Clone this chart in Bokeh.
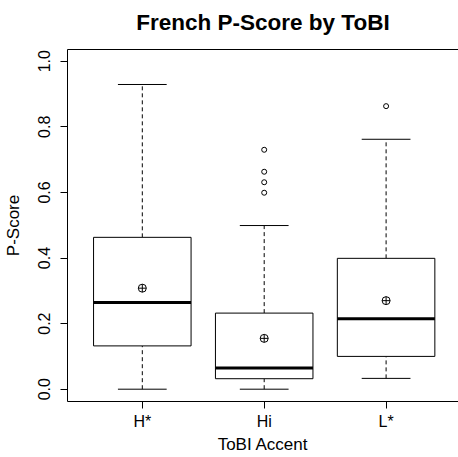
from bokeh.plotting import figure
from bokeh.models import LinearAxis, FixedTicker, Range1d, ColumnDataSource, NumeralTickFormatter
from bokeh.embed import file_html
from bokeh.resources import INLINE

# ---- data ----
title_text = "French P-Score by ToBI"
categories = ["H*", "Hi", "L*"]
positions = [1, 2, 3]
whisker_low = [0.000, 0.000, 0.033]
q1 = [0.132, 0.032, 0.100]
median = [0.264, 0.065, 0.215]
q3 = [0.463, 0.232, 0.399]
whisker_high = [0.929, 0.499, 0.762]
means = [0.308, 0.155, 0.270]
outlier_group = ["Hi", "Hi", "Hi", "Hi", "L*"]
outlier_values = [0.730, 0.663, 0.631, 0.599, 0.863]
y_ticks = [0.0, 0.2, 0.4, 0.6, 0.8, 1.0]

FONT = "Liberation Sans"
box_half = 0.4
cap_half = 0.2

src = ColumnDataSource(dict(
    x=positions,
    left=[x - box_half for x in positions],
    right=[x + box_half for x in positions],
    cap_l=[x - cap_half for x in positions],
    cap_r=[x + cap_half for x in positions],
    lo=whisker_low, q1=q1, med=median, q3=q3, hi=whisker_high, mean=means,
))
pos_of = dict(zip(categories, positions))
out_src = ColumnDataSource(dict(
    x=[pos_of[g] for g in outlier_group], y=outlier_values))

p = figure(width=458, height=457, output_backend="svg", toolbar_location=None,
           x_range=Range1d(0.3863, 3.594), y_range=Range1d(-0.0375, 1.0357),
           min_border_left=66, min_border_right=0, min_border_top=49,
           min_border_bottom=56)
p.outline_line_color = None
p.grid.visible = False
p.background_fill_color = "white"
p.border_fill_color = "white"

# x axis
xa = p.xaxis[0]
xa.ticker = FixedTicker(ticks=positions)
xa.major_label_overrides = {pos: cat for pos, cat in zip(positions, categories)}
xa.axis_label = "ToBI Accent"
for ax in (p.xaxis[0], p.yaxis[0]):
    ax.axis_line_color = "black"
    ax.major_tick_line_color = "black"
    ax.minor_tick_line_color = None
    ax.major_tick_out = 7
    ax.major_tick_in = 0
    ax.major_label_text_font = FONT
    ax.major_label_text_font_size = "16px"
    ax.major_label_text_color = "black"
    ax.axis_label_text_font = FONT
    ax.axis_label_text_font_size = "17px"
    ax.axis_label_text_font_style = "normal"
    ax.axis_label_text_color = "black"
xa.major_label_standoff = 4
xa.axis_label_standoff = 2

ya = p.yaxis[0]
ya.ticker = FixedTicker(ticks=y_ticks)
ya.formatter = NumeralTickFormatter(format="0.0")
ya.major_label_orientation = "vertical"
ya.axis_label = "P-Score"
ya.major_label_standoff = 10
ya.axis_label_standoff = 13

# top frame line, carrying the main title as its label (centred over the plot)
top = LinearAxis(ticker=FixedTicker(ticks=[]), axis_line_color="black",
                 major_tick_line_color=None, minor_tick_line_color=None,
                 major_tick_out=0, major_tick_in=0, major_label_standoff=0,
                 axis_label=title_text, axis_label_text_font=FONT,
                 axis_label_text_font_size="22.5px", axis_label_text_font_style="bold",
                 axis_label_text_color="black", axis_label_standoff=15)
p.add_layout(top, "above")

# whiskers (dashed)
p.segment(x0="x", y0="q3", x1="x", y1="hi", source=src, line_color="black",
          line_width=1, line_dash="4 3")
p.segment(x0="x", y0="lo", x1="x", y1="q1", source=src, line_color="black",
          line_width=1, line_dash="4 3")
# caps
p.segment(x0="cap_l", y0="hi", x1="cap_r", y1="hi", source=src, line_color="black", line_width=1)
p.segment(x0="cap_l", y0="lo", x1="cap_r", y1="lo", source=src, line_color="black", line_width=1)
# boxes
p.quad(left="left", right="right", bottom="q1", top="q3", source=src,
       fill_color="white", line_color="black", line_width=1)
# medians
p.segment(x0="left", y0="med", x1="right", y1="med", source=src, line_color="black", line_width=3)
# means
p.scatter(x="x", y="mean", source=src, marker="circle_cross", size=8,
          fill_color=None, line_color="black", line_width=1)
# outliers
p.scatter(x="x", y="y", source=out_src, marker="circle", size=5,
          fill_color=None, line_color="black", line_width=1)

open("out.html", "w").write(file_html(p, INLINE))
